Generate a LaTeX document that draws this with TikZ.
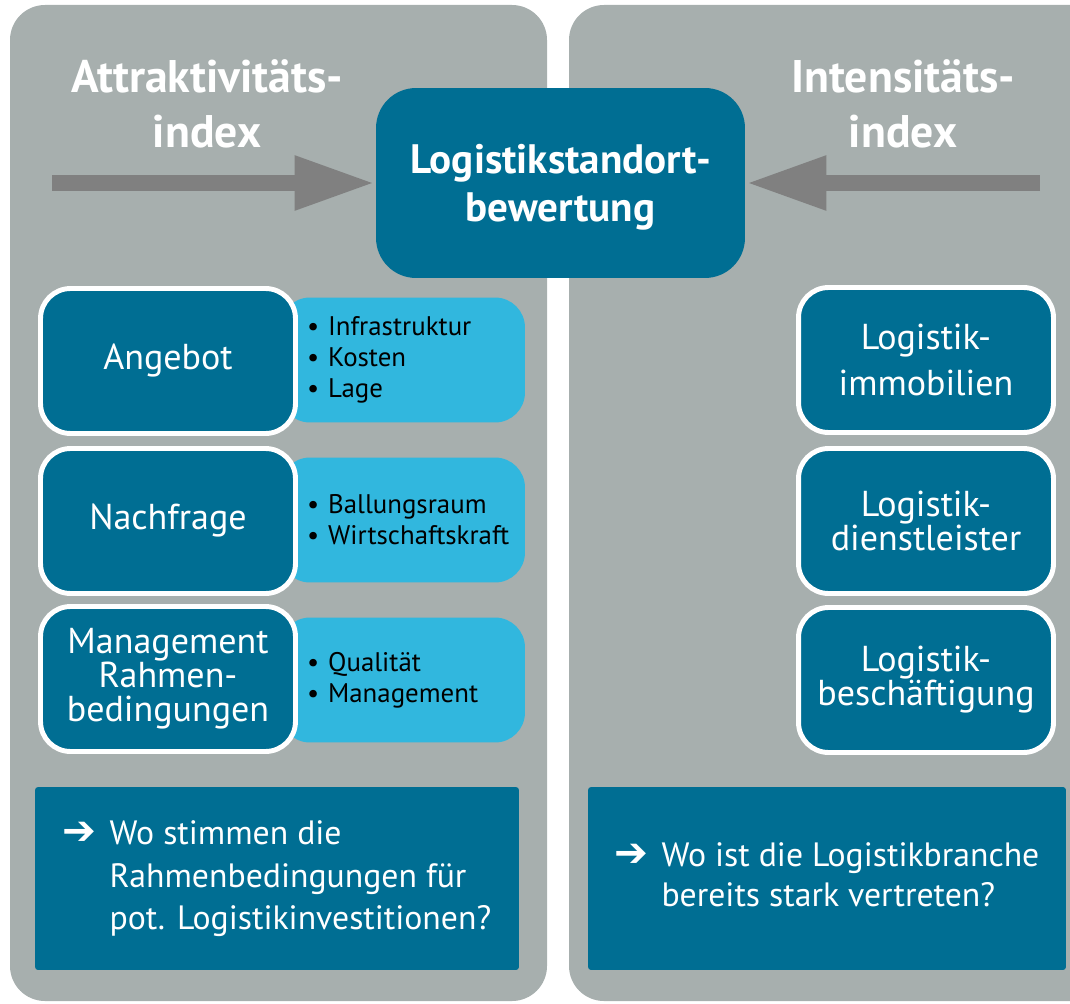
\documentclass[tikz,border=0pt]{standalone}
\usepackage{fontspec}
\setmainfont{PT Sans}
\newfontfamily\arrowfont{DejaVu Sans}
\usetikzlibrary{arrows.meta}
\definecolor{panelgray}{HTML}{A7AFAE}
\definecolor{darkteal}{HTML}{006E93}
\definecolor{lightblue}{HTML}{31B7DE}
\definecolor{arrowgray}{HTML}{808080}
\newcommand\bitem{\hspace*{0.24cm}\textbullet~}
\newcommand\qarrow{{\arrowfont\bfseries\fontsize{23}{24}\selectfont ➔}}
\begin{document}
\begin{tikzpicture}[x=0.02cm,y=-0.02cm]
\tikzstyle{panel}=[fill=panelgray,rounded corners=0.7cm]
\tikzstyle{factor}=[draw=white,line width=2.8pt,fill=darkteal,rounded corners=0.6cm,minimum width=5.1cm,minimum height=2.9cm,align=center,text=white,font=\fontsize{20.5}{19.3}\selectfont]
\tikzstyle{detail}=[fill=lightblue,rounded corners=0.6cm,minimum height=2.5cm,text width=4.3cm,inner xsep=0.3cm,align=left,font=\fontsize{15.3}{17.6}\selectfont]
\tikzstyle{question}=[fill=darkteal,rounded corners=0.06cm,minimum height=3.66cm,text=white,font=\fontsize{19.2}{24.4}\selectfont]
\tikzstyle{headline}=[text=white,align=center,font=\bfseries\fontsize{26}{31}\selectfont]
\tikzstyle{bigarrow}=[arrowgray,line width=0.34cm,-{Triangle[length=1.62cm,width=1cm]}]
\clip (0,0) rectangle (1070,1003);
\fill[panel] (10,5) rectangle (547,1001);
\fill[panel] (569,5) rectangle (1110,1001);
\node[headline] (attr) at (207,104) {Attraktivitäts-\\index};
\node[headline] (inten) at (903,104) {Intensitäts-\\index};
\node[fill=darkteal,rounded corners=0.8cm,minimum width=7.38cm,minimum height=3.8cm,align=center,text=white,text depth=0pt,font=\bfseries\fontsize{23.4}{27}\selectfont] (lsb) at (560.5,183) {Logistikstandort-\\bewertung};
\coordinate (la) at (52,183);
\coordinate (ra) at (1040,183);
\draw[bigarrow] (la) -- (lsb.west);
\draw[bigarrow] (ra) -- (lsb.east);
\node[detail] (d1) at (402.5,360) {\bitem Infrastruktur\\\bitem Kosten\\\bitem Lage};
\node[detail] (d2) at (402.5,520) {\bitem Ballungsraum\\\bitem Wirtschaftskraft};
\node[detail] (d3) at (402.5,680) {\bitem Qualität\\\bitem Management};
\node[factor] (f1) at (168,361) {Angebot};
\node[factor] (f2) at (168,521) {Nachfrage};
\node[factor] (f3) at (168,679) {Management\\Rahmen-\\bedingungen};
\node[factor,font=\fontsize{20.5}{26.6}\selectfont] (g1) at (926,360) {Logistik-\\immobilien};
\node[factor] (g2) at (926,521) {Logistik-\\dienstleister};
\node[factor] (g3) at (926,680) {Logistik-\\beschäftigung};
\node[question,minimum width=9.68cm] (q1) at (277,878.5) {\begin{tabular}{@{}l@{\hspace{0.26cm}}l@{}}\qarrow & Wo stimmen die\\ & Rahmenbedingungen für\\ & pot. Logistikinvestitionen?\end{tabular}};
\node[question,minimum width=9.56cm,font=\fontsize{19.2}{22.7}\selectfont] (q2) at (827,878.5) {\begin{tabular}{@{}l@{\hspace{0.26cm}}l@{}}\qarrow & Wo ist die Logistikbranche\\ & bereits stark vertreten?\end{tabular}};
\end{tikzpicture}
\end{document}
